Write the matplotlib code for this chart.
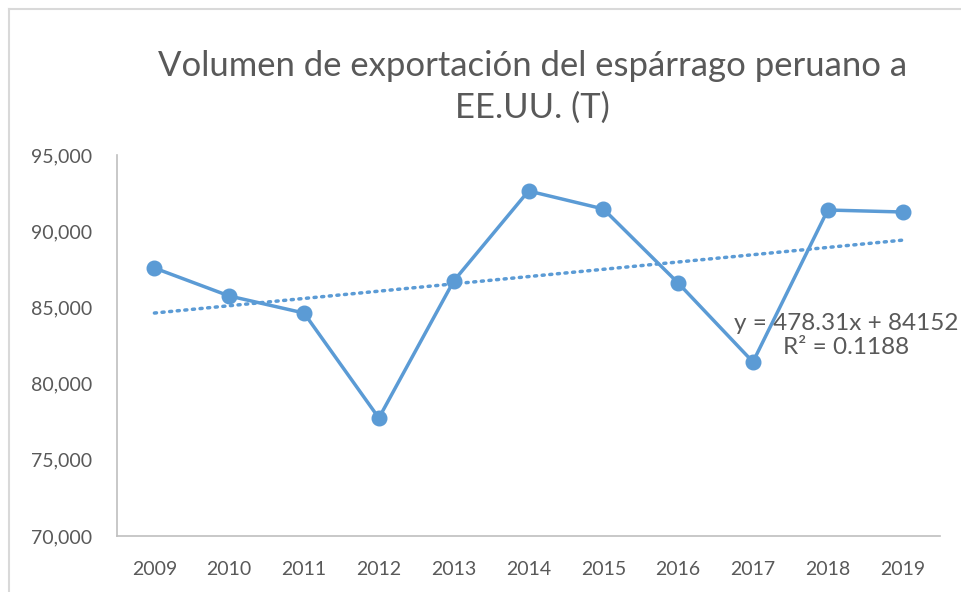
import numpy as np
import matplotlib.pyplot as plt
from matplotlib.lines import Line2D

# Datos
anios = ['2009', '2010', '2011', '2012', '2013', '2014', '2015', '2016', '2017', '2018', '2019']
volumen = [87585, 85750, 84630, 77740, 86730, 92640, 91460, 86600, 81420, 91390, 91260]
# Tendencia lineal reportada en el gráfico (x = 1..n)
pendiente = 478.31
intercepto = 84152
r2 = 0.1188
titulo = "Volumen de exportación del espárrago peruano a\nEE.UU. (T)"

azul = '#5B9BD5'
gris = '#595959'

plt.rcParams['font.family'] = ['Lato', 'DejaVu Sans']

fig = plt.figure(figsize=(9.61, 5.92), dpi=100)
ax = fig.add_axes([117 / 961, 56 / 592, 823 / 961, 381 / 592])

x = np.arange(len(anios))
ax.plot(x, volumen, color=azul, lw=2.5, marker='o', ms=10.5, zorder=3)

ajuste = pendiente * (x + 1) + intercepto
ax.plot(x, ajuste, color=azul, lw=2.5, ls=(0, (0.6, 1.6)), dash_capstyle='round', zorder=2)
ax.text(9.25, 83150, f"y = {pendiente}x + {intercepto}\nR² = {r2}", ha='center', va='center',
        fontsize=17.5, color=gris, linespacing=1.2, zorder=4)

ax.set_xlim(-0.5, len(anios) - 0.5)
ax.set_ylim(70000, 95000)
ax.set_xticks(x)
ax.set_xticklabels(anios)
ax.set_yticks(range(70000, 95001, 5000))
ax.yaxis.set_major_formatter(plt.FuncFormatter(lambda v, p: f"{v:,.0f}"))
ax.tick_params(length=0, labelsize=14, colors=gris)
ax.tick_params(axis='x', pad=18)
ax.tick_params(axis='y', pad=18)
for s in ['top', 'right']:
    ax.spines[s].set_visible(False)
for s in ['left', 'bottom']:
    ax.spines[s].set_color('#BFBFBF')
    ax.spines[s].set_linewidth(1.2)

fig.text(0.554, 0.853, titulo, ha='center', va='center', fontsize=24.9, color=gris,
         linespacing=1.35)

# Marco del gráfico
fig.add_artist(Line2D([9 / 961, 1], [1 - 9 / 592, 1 - 9 / 592], color='#D9D9D9', lw=1.5))
fig.add_artist(Line2D([9 / 961, 9 / 961], [0, 1 - 9 / 592], color='#D9D9D9', lw=1.5))

plt.savefig('out.png', dpi=100)
